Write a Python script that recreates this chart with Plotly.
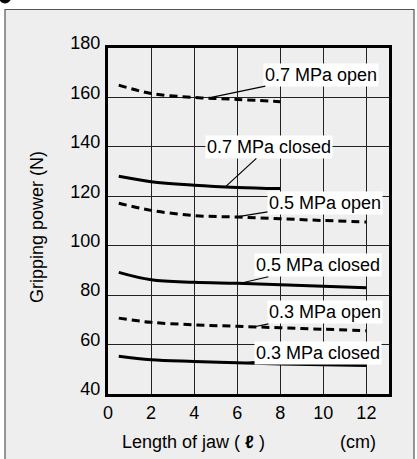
import plotly.graph_objects as go

# ---- data ----
jaw_len_long = [0.5, 2, 4, 6, 8, 10, 12]
jaw_len_short = [0.5, 2, 4, 6, 8]

open_07 = [165.0, 161.6, 160.0, 159.2, 158.3]
closed_07 = [128.1, 125.9, 124.5, 123.6, 123.1]
open_05 = [117.2, 114.3, 112.2, 111.6, 110.9, 110.2, 109.6]
closed_05 = [89.2, 86.2, 85.2, 84.8, 84.2, 83.6, 83.0]
open_03 = [70.7, 69.0, 68.0, 67.4, 66.8, 66.2, 65.6]
closed_03 = [55.3, 53.9, 53.2, 52.6, 52.1, 51.8, 51.5]

x_ticks = [0, 2, 4, 6, 8, 10, 12]
y_ticks = [40, 60, 80, 100, 120, 140, 160, 180]

# label text, label centre (x, y), leader target (x, y)
labels = [
    ("0.7 MPa open", 9.87, 169.2, 4.8, 160.0),
    ("0.7 MPa closed", 7.47, 140.0, 5.45, 123.8),
    ("0.5 MPa open", 10.08, 117.3, 5.9, 111.6),
    ("0.5 MPa closed", 9.73, 92.1, 6.1, 84.7),
    ("0.3 MPa open", 10.1, 73.0, 6.8, 67.2),
    ("0.3 MPa closed", 9.75, 56.4, 6.35, 52.6),
]

W, H = 417, 459
ML, MR, MT, MB = 108, 28, 48, 65
PW = W - ML - MR
PH = H - MT - MB


def px_x(px):
    return (px - ML) / PW


def px_y(py):
    return (H - MB - py) / PH


FONT = "Liberation Sans, Arial, sans-serif"

fig = go.Figure()

series = [
    (jaw_len_short, open_07, "dash"),
    (jaw_len_short, closed_07, "solid"),
    (jaw_len_long, open_05, "dash"),
    (jaw_len_long, closed_05, "solid"),
    (jaw_len_long, open_03, "dash"),
    (jaw_len_long, closed_03, "solid"),
]
for xs, ys, style in series:
    fig.add_trace(go.Scatter(
        x=xs, y=ys, mode="lines",
        line=dict(color="black", width=3, shape="spline",
                  dash="8px,5px" if style == "dash" else "solid"),
        showlegend=False, hoverinfo="skip",
    ))

annotations = []
for text, tx, ty, px_, py_ in labels:
    annotations.append(dict(
        x=px_, y=py_, xref="x", yref="y",
        ax=tx, ay=ty, axref="x", ayref="y",
        text=text, showarrow=True, arrowhead=0, arrowwidth=1.2,
        arrowcolor="black", standoff=0, startstandoff=0,
        bgcolor="white", borderpad=1,
        font=dict(family=FONT, size=18, color="black"),
    ))

annotations += [
    dict(x=px_x(37), y=px_y(227), xref="paper", yref="paper",
         xanchor="center", yanchor="middle",
         text="Gripping power (N)", textangle=-90, showarrow=False,
         font=dict(family=FONT, size=18, color="black")),
    dict(x=px_x(193), y=px_y(442), xref="paper", yref="paper",
         xanchor="center", yanchor="middle",
         text="Length of jaw ( <b>ℓ</b> )", showarrow=False,
         font=dict(family=FONT, size=18, color="black")),
    dict(x=px_x(358), y=px_y(442), xref="paper", yref="paper",
         xanchor="center", yanchor="middle",
         text="(cm)", showarrow=False,
         font=dict(family=FONT, size=18, color="black")),
]

shapes = [
    dict(type="rect", xref="paper", yref="paper", layer="below",
         x0=px_x(5), x1=px_x(414), y0=px_y(480), y1=px_y(9.5),
         fillcolor="#eeeeee", line=dict(color="#555555", width=1.2)),
    dict(type="circle", xref="paper", yref="paper", layer="above",
         x0=px_x(-1), x1=px_x(11), y0=px_y(3), y1=px_y(-9),
         fillcolor="black", line=dict(color="black", width=1)),
]

fig.update_layout(
    width=W, height=H,
    margin=dict(l=ML, r=MR, t=MT, b=MB, pad=0),
    paper_bgcolor="white", plot_bgcolor="white",
    font=dict(family=FONT, size=18, color="black"),
    annotations=annotations, shapes=shapes,
    xaxis=dict(range=[0, 13.05], tickvals=x_ticks, showgrid=True,
               gridcolor="#222222", gridwidth=1.4, zeroline=False,
               showline=True, linecolor="black", linewidth=3, mirror=True,
               ticks="", ticklabelstandoff=0,
               tickfont=dict(family=FONT, size=18, color="black")),
    yaxis=dict(range=[40, 180], tickvals=y_ticks, showgrid=True,
               gridcolor="#222222", gridwidth=1.4, zeroline=False,
               showline=True, linecolor="black", linewidth=3, mirror=True,
               ticks="", ticklabelstandoff=1, ticklabelshift=-5,
               tickfont=dict(family=FONT, size=18, color="black")),
)

fig.write_html(
    "out.html",
    config={"displayModeBar": False},
    post_script="document.body.style.margin='0';document.body.style.overflow='hidden';",
)
